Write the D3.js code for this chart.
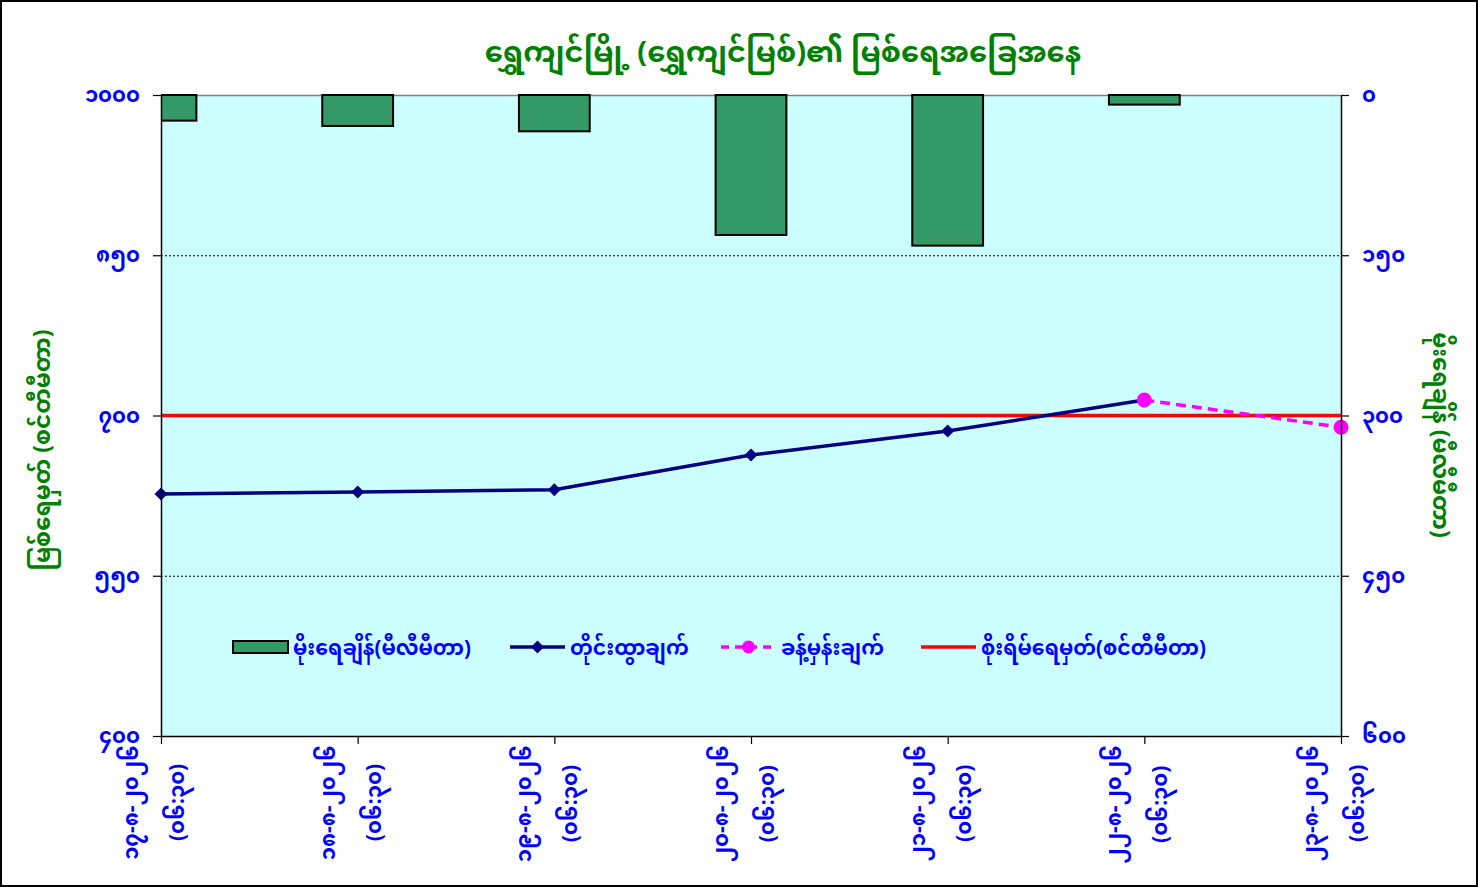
<!DOCTYPE html>
<html>
<head>
<meta charset="utf-8">
<script src="https://cdn.jsdelivr.net/npm/d3@7"></script>
<style>
  html, body { margin: 0; padding: 0; background: #fff; }
  svg { display: block; }
  text { font-family: "Noto Sans Myanmar", "Noto Sans Myanmar UI", "Padauk", "Myanmar Text", "Myanmar3", "Noto Sans", sans-serif; }
</style>
</head>
<body>
<svg id="chart" width="1478" height="887"></svg>
<script>
// ---------------- DATA ----------------
const categories = [
  ["၁၇-၈-၂၀၂၆", "(၀၆:၃၀)"],
  ["၁၈-၈-၂၀၂၆", "(၀၆:၃၀)"],
  ["၁၉-၈-၂၀၂၆", "(၀၆:၃၀)"],
  ["၂၀-၈-၂၀၂၆", "(၀၆:၃၀)"],
  ["၂၁-၈-၂၀၂၆", "(၀၆:၃၀)"],
  ["၂၂-၈-၂၀၂၆", "(၀၆:၃၀)"],
  ["၂၃-၈-၂၀၂၆", "(၀၆:၃၀)"]
];
const rainfall = [24, 29, 34, 131, 141, 9, 0];                    // mm (right axis, inverted)
const measured = [626.5, 628.5, 630.5, 663, 685.5, 714.5, null];  // cm
const forecast = [null, null, null, null, null, 714.5, 689];      // cm
const dangerLevel = 700;                                          // cm

const leftTickValues  = [400, 550, 700, 850, 1000];
const leftTickLabels  = ["၄၀၀", "၅၅၀", "၇၀၀", "၈၅၀", "၁၀၀၀"];
const rightTickValues = [0, 150, 300, 450, 600];
const rightTickLabels = ["၀", "၁၅၀", "၃၀၀", "၄၅၀", "၆၀၀"];

const titleText = "ရွှေကျင်မြို့ (ရွှေကျင်မြစ်)၏ မြစ်ရေအခြေအနေ";
const leftAxisTitle = "မြစ်ရေမှတ် (စင်တီမီတာ)";
const rightAxisTitle = "မိုးရေချိန် (မီလီမီတာ)";
const legendLabels = ["မိုးရေချိန်(မီလီမီတာ)", "တိုင်းထွာချက်", "ခန့်မှန်းချက်", "စိုးရိမ်ရေမှတ်(စင်တီမီတာ)"];

// ---------------- LAYOUT ----------------
const W = 1478, H = 887;
const plot = { left: 161, right: 1341, top: 95, bottom: 736 };
const BLUE = "#0000FF", GREEN = "#008000";
const TICK_FS = 21;

const svg = d3.select("#chart");

svg.append("rect").attr("x", 1).attr("y", 1).attr("width", W - 2).attr("height", H - 2)
  .attr("fill", "#fff").attr("stroke", "#000").attr("stroke-width", 2);

const x = d3.scalePoint().domain(d3.range(categories.length)).range([plot.left, plot.right]);
const yL = d3.scaleLinear().domain([400, 1000]).range([plot.bottom, plot.top]);
const yR = d3.scaleLinear().domain([0, 600]).range([plot.top, plot.bottom]);
const step = x.step();
const barW = step * 0.36;

// plot background
svg.append("rect").attr("x", plot.left).attr("y", plot.top)
  .attr("width", plot.right - plot.left).attr("height", plot.bottom - plot.top)
  .attr("fill", "#CCFFFF");

// gridlines
svg.append("g").selectAll("line").data(leftTickValues.filter(v => v > 400 && v < 1000)).join("line")
  .attr("x1", plot.left).attr("x2", plot.right)
  .attr("y1", d => yL(d) + 0.5).attr("y2", d => yL(d) + 0.5)
  .attr("stroke", "#000").attr("stroke-width", 1).attr("stroke-dasharray", "2,2");

// top border
svg.append("line").attr("x1", plot.left).attr("x2", plot.right)
  .attr("y1", plot.top + 0.5).attr("y2", plot.top + 0.5)
  .attr("stroke", "#808080").attr("stroke-width", 1.5);

// clip for bars
svg.append("clipPath").attr("id", "plotclip").append("rect")
  .attr("x", plot.left).attr("y", plot.top - 2)
  .attr("width", plot.right - plot.left).attr("height", plot.bottom - plot.top + 2);

svg.append("g").attr("clip-path", "url(#plotclip)")
  .selectAll("rect").data(rainfall.map((v, i) => ({ v, i })).filter(d => d.v > 0)).join("rect")
  .attr("x", d => x(d.i) - barW / 2)
  .attr("y", yR(0))
  .attr("width", barW)
  .attr("height", d => yR(d.v) - yR(0))
  .attr("fill", "#339966").attr("stroke", "#000").attr("stroke-width", 2);

// danger line
svg.append("line").attr("x1", plot.left).attr("x2", plot.right)
  .attr("y1", yL(dangerLevel)).attr("y2", yL(dangerLevel))
  .attr("stroke", "#FF0000").attr("stroke-width", 3.5);

// measured line
const lineGen = d3.line().defined(d => d.v != null).x(d => x(d.i)).y(d => yL(d.v));
const mData = measured.map((v, i) => ({ v, i }));
svg.append("path").datum(mData).attr("d", lineGen)
  .attr("fill", "none").attr("stroke", "#000080").attr("stroke-width", 3.5);
const diamond = (cx, cy, r) => `M${cx},${cy - r}L${cx + r},${cy}L${cx},${cy + r}L${cx - r},${cy}Z`;
svg.append("g").selectAll("path").data(mData.filter(d => d.v != null)).join("path")
  .attr("d", d => diamond(x(d.i), yL(d.v), 6.5))
  .attr("fill", "#000080");

// forecast line
const fData = forecast.map((v, i) => ({ v, i }));
svg.append("path").datum(fData).attr("d", lineGen)
  .attr("fill", "none").attr("stroke", "#FF00FF").attr("stroke-width", 3.5)
  .attr("stroke-dasharray", "10,6");
svg.append("g").selectAll("circle").data(fData.filter(d => d.v != null)).join("circle")
  .attr("cx", d => x(d.i)).attr("cy", d => yL(d.v)).attr("r", 7.5)
  .attr("fill", "#FF00FF");

// axes
const axisStyle = g => {
  g.select(".domain").attr("stroke", "#000").attr("stroke-width", 1.5);
  g.selectAll(".tick line").attr("stroke", "#000").attr("stroke-width", 1.2);
  g.selectAll(".tick text").attr("fill", BLUE).attr("font-size", TICK_FS).attr("font-weight", "bold");
};

svg.append("g").attr("transform", `translate(${plot.left},0)`)
  .call(d3.axisLeft(yL).tickValues(leftTickValues)
    .tickFormat(d => leftTickLabels[leftTickValues.indexOf(d)])
    .tickSize(8).tickPadding(13).tickSizeOuter(0))
  .call(axisStyle);

svg.append("g").attr("transform", `translate(${plot.right},0)`)
  .call(d3.axisRight(yR).tickValues(rightTickValues)
    .tickFormat(d => rightTickLabels[rightTickValues.indexOf(d)])
    .tickSize(8).tickPadding(13).tickSizeOuter(0))
  .call(axisStyle);

svg.append("g").attr("transform", `translate(0,${plot.bottom})`)
  .call(d3.axisBottom(x).tickSize(8).tickSizeOuter(0).tickFormat(""))
  .call(axisStyle);

// x labels (rotated, two lines, centred)
const xl = svg.append("g");
categories.forEach((c, i) => {
  const g = xl.append("g").attr("transform", `translate(${x(i)},745) rotate(-90)`);
  const t1 = g.append("text").text(c[0]).attr("fill", BLUE).attr("font-size", TICK_FS)
    .attr("font-weight", "bold").attr("text-anchor", "middle").attr("y", -23);
  const w1 = t1.node().getComputedTextLength();
  t1.attr("x", -w1 / 2);
  g.append("text").text(c[1]).attr("fill", BLUE).attr("font-size", TICK_FS)
    .attr("font-weight", "bold").attr("text-anchor", "middle").attr("x", -w1 / 2).attr("y", 23);
});

// title
svg.append("text").attr("x", 783).attr("y", 62).attr("text-anchor", "middle")
  .attr("fill", GREEN).attr("font-size", 29).attr("font-weight", "bold").text(titleText);

// axis titles
svg.append("text").attr("transform", `translate(50,450) rotate(-90)`).attr("text-anchor", "middle")
  .attr("fill", GREEN).attr("font-size", 23).attr("font-weight", "bold").text(leftAxisTitle);
svg.append("text").attr("transform", `translate(1433,435) rotate(90)`).attr("text-anchor", "middle")
  .attr("fill", GREEN).attr("font-size", 23).attr("font-weight", "bold").text(rightAxisTitle);

// legend
const lg = svg.append("g");
const ly = 647;
const legendX = [233, 510, 721, 921];
lg.append("rect").attr("x", legendX[0]).attr("y", ly - 6).attr("width", 55).attr("height", 12)
  .attr("fill", "#339966").attr("stroke", "#000").attr("stroke-width", 2);
lg.append("line").attr("x1", legendX[1]).attr("x2", legendX[1] + 55).attr("y1", ly).attr("y2", ly)
  .attr("stroke", "#000080").attr("stroke-width", 3.5);
lg.append("path").attr("d", diamond(legendX[1] + 27.5, ly, 6.5)).attr("fill", "#000080");
lg.append("line").attr("x1", legendX[2]).attr("x2", legendX[2] + 55).attr("y1", ly).attr("y2", ly)
  .attr("stroke", "#FF00FF").attr("stroke-width", 3.5).attr("stroke-dasharray", "8,6");
lg.append("circle").attr("cx", legendX[2] + 27.5).attr("cy", ly).attr("r", 6.5).attr("fill", "#FF00FF");
lg.append("line").attr("x1", legendX[3]).attr("x2", legendX[3] + 55).attr("y1", ly).attr("y2", ly)
  .attr("stroke", "#FF0000").attr("stroke-width", 3.5);
legendLabels.forEach((l, i) => {
  lg.append("text").attr("x", legendX[i] + 60).attr("y", ly + 8).attr("fill", BLUE)
    .attr("font-size", 20.5).attr("font-weight", "bold").text(l);
});
</script>
</body>
</html>
